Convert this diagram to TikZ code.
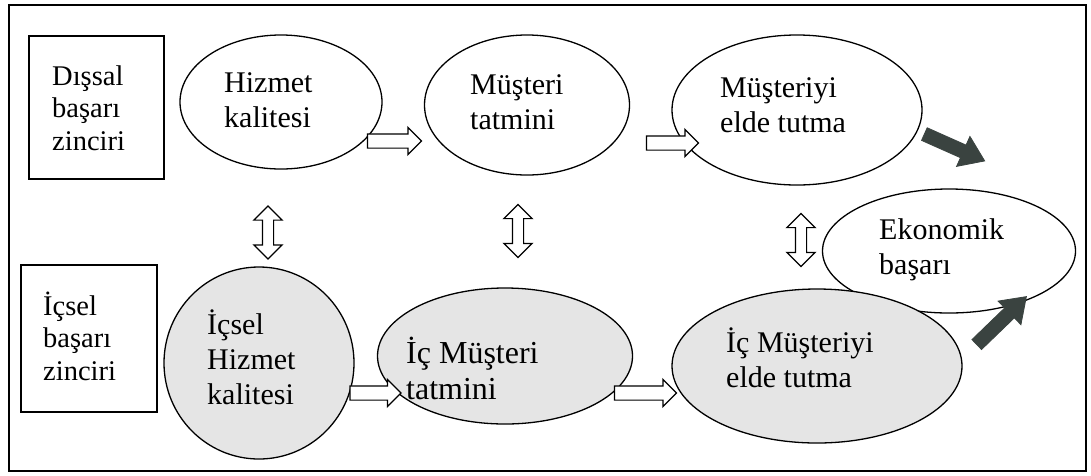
\documentclass[tikz,border=0pt]{standalone}
\usepackage{fontspec}
\setmainfont{Liberation Serif}
\usetikzlibrary{shapes.geometric,shapes.arrows}
\definecolor{darkarrow}{HTML}{3A4340}
\definecolor{innerfill}{HTML}{E5E5E5}
\begin{document}
\begin{tikzpicture}[x=1pt,y=-1pt,
  txt/.style={font=\fontsize{30}{35}\selectfont, align=left, anchor=west, inner sep=0pt},
  bigtxt/.style={txt, font=\fontsize{32}{36}\selectfont},
  boxtxt/.style={txt, font=\fontsize{28.5}{32.5}\selectfont},
  oval/.style={ellipse, draw, line width=1.3pt, inner sep=0pt, fill=white},
  inneroval/.style={oval, fill=innerfill},
  chainbox/.style={draw, line width=1.6pt, inner sep=0pt},
  hollow/.style={single arrow, draw, line width=1.2pt, fill=white, inner xsep=0pt, inner ysep=6.5pt,
     single arrow head extend=6.5pt, single arrow head indent=0pt},
  twoway/.style={double arrow, draw, line width=1.2pt, fill=white, inner xsep=0pt, inner ysep=5pt,
     double arrow head extend=8.5pt, rotate=90, minimum height=53pt},
  solidarrow/.style={single arrow, draw=darkarrow, fill=darkarrow, line width=0.8pt, inner xsep=0pt, inner ysep=6.5pt,
     single arrow head extend=9.5pt, single arrow tip angle=70}
]
\useasboundingbox (0,0) rectangle (1091,475);
\draw[line width=1.5pt] (9,5) rectangle (1086,471);

% left boxes
\node[chainbox, minimum width=135pt, minimum height=143pt] (outbox) at (96.5,107.5) {};
\node[boxtxt] (outtxt) at (52,108) {Dışsal\\başarı\\zinciri};
\node[chainbox, minimum width=136pt, minimum height=147pt] (inbox) at (89,338.5) {};
\node[boxtxt] (intxt) at (43,336) {İçsel\\başarı\\zinciri};

% top chain
\node[oval, minimum width=202pt, minimum height=134pt] (hk) at (281,102) {};
\node[txt] (hkt) at (224,100) {Hizmet\\kalitesi};
\node[oval, minimum width=205pt, minimum height=140pt] (mt) at (527,105) {};
\node[txt] (mtt) at (470,102) {Müşteri\\tatmini};
\node[oval, minimum width=250pt, minimum height=150pt] (me) at (797,110) {};
\node[txt] (met) at (720,105) {Müşteriyi\\elde tutma};

% economic success
\node[oval, minimum width=253pt, minimum height=124pt] (eb) at (949,251) {};
\node[txt] (ebt) at (879,250) {Ekonomik\\başarı};

% inner chain
\node[inneroval, minimum width=190pt, minimum height=192pt] (ih) at (259,363) {};
\node[txt] (iht) at (207,357) {İçsel\\Hizmet\\kalitesi};
\node[inneroval, minimum width=255pt, minimum height=136pt] (im) at (505,356) {};
\node[bigtxt] (imt) at (406,368) {İç Müşteri\\tatmini};
\node[inneroval, minimum width=290pt, minimum height=154pt] (ie) at (817,366) {};
\node[txt] (iet) at (726,358) {İç Müşteriyi\\elde tutma};

% hollow arrows
\node[hollow, minimum height=54pt] (a1) at (391,141) {};
\node[hollow, minimum height=52pt] (a2) at (669,143) {};
\node[hollow, minimum height=51pt] (a3) at (372,393) {};
\node[hollow, minimum height=62pt] (a4) at (642,393) {};

% two-way arrows
\node[twoway] (d1) at (268,232.5) {};
\node[twoway] (d2) at (518,231) {};
\node[twoway] (d3) at (801,240) {};

% dark arrows
\node[solidarrow, minimum height=66pt, rotate=-24] (s1) at (950,145.5) {};
\node[solidarrow, minimum height=69pt, rotate=44] (s2) at (998,324) {};
\end{tikzpicture}
\end{document}
